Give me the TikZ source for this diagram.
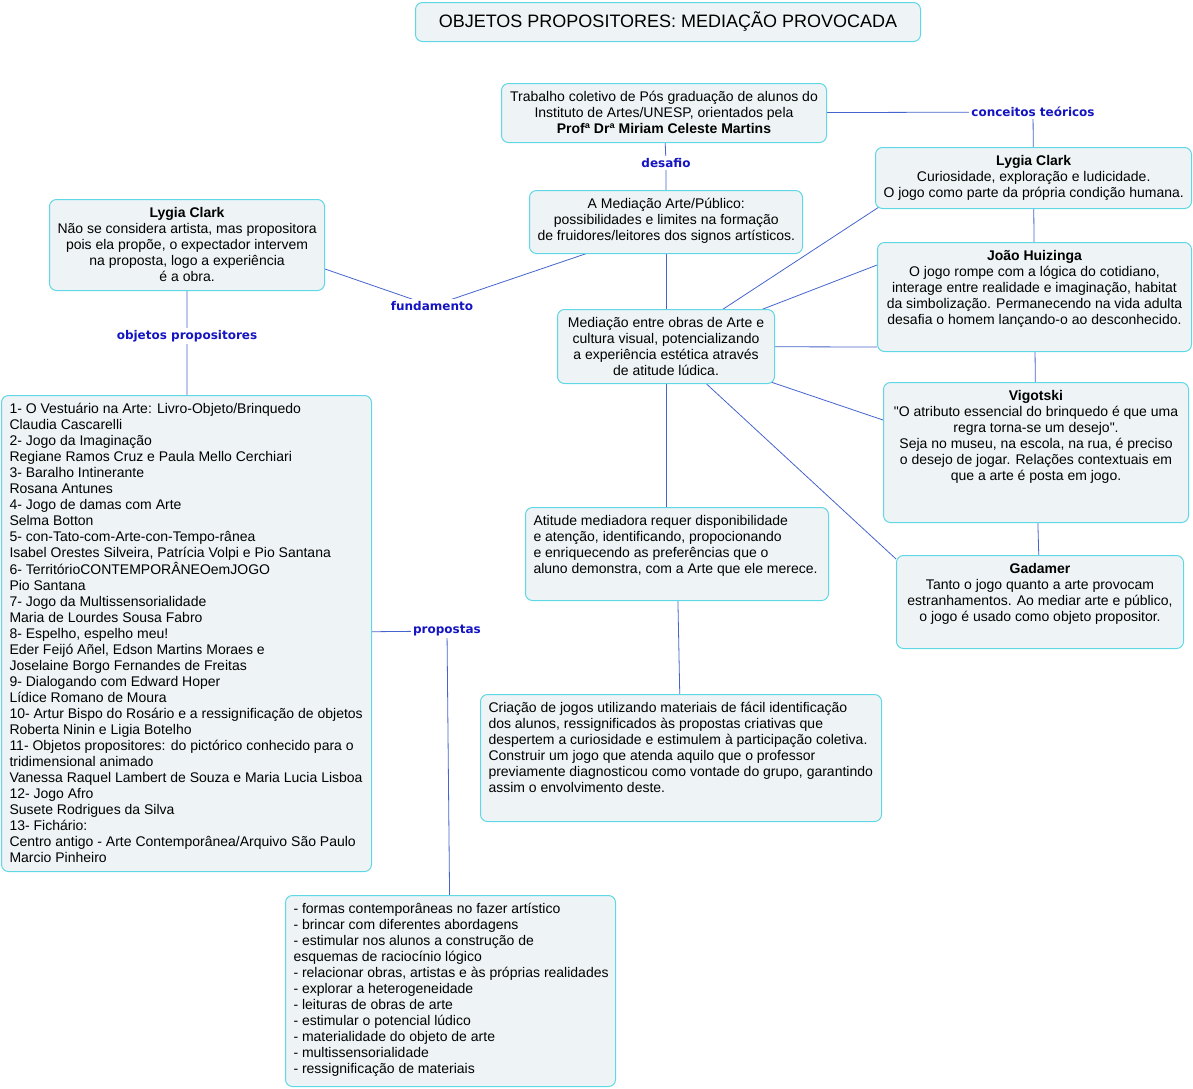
\documentclass[tikz,border=0pt]{standalone}
\usepackage{fontspec}
\setmainfont{Liberation Sans}[Ligatures=TeXOff]
\newfontfamily\labfont{DejaVu Sans}
\usetikzlibrary{backgrounds}
\definecolor{bordc}{RGB}{95,215,228}
\definecolor{fillc}{RGB}{238,244,246}
\definecolor{linec}{RGB}{70,100,205}
\definecolor{labc}{RGB}{20,20,195}
\tikzset{
  mapbox/.style={draw=bordc, fill=fillc, rounded corners=7pt, line width=1pt,
    inner xsep=8pt, inner ysep=6.8pt, anchor=north west,
    font=\fontsize{14}{16}\selectfont},
  lab/.style={font=\labfont\bfseries\fontsize{12}{14}\selectfont, text=labc, fill=white, inner sep=2pt},
  conn/.style={draw=linec, line width=0.8pt}
}
\newcommand\MapC[6]{\node[mapbox,minimum width=#4pt,minimum height=#5pt] (#1) at (#2,#3)
  {\parbox[c][\dimexpr#5pt-13.6pt\relax][t]{\dimexpr#4pt-16pt\relax}{\centering\begin{tabular}[t]{@{}c@{}}#6\end{tabular}\par}};}
\newcommand\MapL[6]{\node[mapbox,minimum width=#4pt,minimum height=#5pt] (#1) at (#2,#3)
  {\parbox[c][\dimexpr#5pt-13.6pt\relax][t]{\dimexpr#4pt-16pt\relax}{\raggedright\begin{tabular}[t]{@{}l@{}}#6\end{tabular}\par}};}
\begin{document}
\begin{tikzpicture}[x=1pt,y=-1pt]
\useasboundingbox (0,0) rectangle (1193,1088);
\node[mapbox, minimum width=505pt, minimum height=39pt, font=\fontsize{18}{20}\selectfont] (title) at (415,2) {OBJETOS PROPOSITORES: MEDIAÇÃO PROVOCADA};

\MapC{trab}{501}{83}{325}{59}{Trabalho coletivo de Pós graduação de alunos do\\ Instituto de Artes/UNESP, orientados pela\\ \textbf{Profª Drª Miriam Celeste Martins}}
\MapC{amed}{529}{190}{273}{63}{A Mediação Arte/Público:\\ possibilidades e limites na formação\\ de fruidores/leitores dos signos artísticos.}
\MapC{lcl}{49}{199}{275}{91}{\textbf{Lygia Clark}\\ Não se considera artista, mas propositora\\ pois ela propõe, o expectador intervem\\ na proposta, logo a experiência\\ é a obra.}
\MapC{lcr}{875}{147}{316}{61}{\textbf{Lygia Clark}\\ Curiosidade, exploração e ludicidade.\\ O jogo como parte da própria condição humana.}
\MapC{joao}{877}{242}{314}{109}{\textbf{João Huizinga}\\ O jogo rompe com a lógica do cotidiano,\\ interage entre realidade e imaginação, habitat\\ da simbolização. Permanecendo na vida adulta\\ desafia o homem lançando-o ao desconhecido.}
\MapC{medent}{557}{309}{217}{74}{Mediação entre obras de Arte e\\ cultura visual, potencializando\\ a experiência estética através\\ de atitude lúdica.}
\MapC{vig}{883}{382}{305}{140}{\textbf{Vigotski}\\ "O atributo essencial do brinquedo é que uma\\ regra torna-se um desejo".\\ Seja no museu, na escola, na rua, é preciso\\ o desejo de jogar. Relações contextuais em\\ que a arte é posta em jogo.}
\MapC{gad}{896}{555}{287}{93}{\textbf{Gadamer}\\ Tanto o jogo quanto a arte provocam\\ estranhamentos. Ao mediar arte e público,\\ o jogo é usado como objeto propositor.}
\MapL{atit}{525}{507}{303}{93}{Atitude mediadora requer disponibilidade\\ e atenção, identificando, propocionando\\ e enriquecendo as preferências que o\\ aluno demonstra, com a Arte que ele merece.}
\MapL{criac}{480}{694}{401}{127}{Criação de jogos utilizando materiais de fácil identificação\\ dos alunos, ressignificados às propostas criativas que\\ despertem a curiosidade e estimulem à participação coletiva.\\ Construir um jogo que atenda aquilo que o professor\\ previamente diagnosticou como vontade do grupo, garantindo\\ assim o envolvimento deste.}
\MapL{list}{1}{395}{370}{476}{1- O Vestuário na Arte: Livro-Objeto/Brinquedo\\ Claudia Cascarelli\\ 2- Jogo da Imaginação\\ Regiane Ramos Cruz e Paula Mello Cerchiari\\ 3- Baralho Intinerante\\ Rosana Antunes\\ 4- Jogo de damas com Arte\\ Selma Botton\\ 5- con-Tato-com-Arte-con-Tempo-rânea\\ Isabel Orestes Silveira, Patrícia Volpi e Pio Santana\\ 6- TerritórioCONTEMPORÂNEOemJOGO\\ Pio Santana\\ 7- Jogo da Multissensorialidade\\ Maria de Lourdes Sousa Fabro\\ 8- Espelho, espelho meu!\\ Eder Feijó Añel, Edson Martins Moraes e\\ Joselaine Borgo Fernandes de Freitas\\ 9- Dialogando com Edward Hoper\\ Lídice Romano de Moura\\ 10- Artur Bispo do Rosário e a ressignificação de objetos\\ Roberta Ninin e Ligia Botelho\\ 11- Objetos propositores: do pictórico conhecido para o\\ tridimensional animado\\ Vanessa Raquel Lambert de Souza e Maria Lucia Lisboa\\ 12- Jogo Afro\\ Susete Rodrigues da Silva\\ 13- Fichário:\\ Centro antigo - Arte Contemporânea/Arquivo São Paulo\\ Marcio Pinheiro}
\MapL{blist}{285}{895}{330}{191}{- formas contemporâneas no fazer artístico\\ - brincar com diferentes abordagens\\ - estimular nos alunos a construção de\\ esquemas de raciocínio lógico\\ - relacionar obras, artistas e às próprias realidades\\ - explorar a heterogeneidade\\ - leituras de obras de arte\\ - estimular o potencial lúdico\\ - materialidade do objeto de arte\\ - multissensorialidade\\ - ressignificação de materiais}

\node[lab] (des) at (666,163) {desafio};
\node[lab] (conc) at (1033,112) {conceitos teóricos};
\node[lab] (fund) at (432,306) {fundamento};
\node[lab] (objp) at (187,336) {objetos propositores};
\node[lab] (prop) at (447,631) {propostas};

\begin{scope}[on background layer]
\draw[conn] (trab.center) -- (des.center) -- (amed.center);
\draw[conn] (trab.center) -- (conc.center) -- (lcr.center);
\draw[conn] (lcr.center) -- (joao.center);
\draw[conn] (joao.center) -- (vig.center);
\draw[conn] (vig.center) -- (gad.center);
\draw[conn] (amed.center) -- (medent.center);
\draw[conn] ([yshift=-4.5pt]amed.center) -- (fund.center) -- ([yshift=-24pt]lcl.east);
\draw[conn] (lcl.center) -- (objp.center) -- (list.center);
\draw[conn] (list.center) -- (prop.center) -- (blist.center);
\draw[conn] (medent.center) -- ([xshift=4pt,yshift=2pt]lcr.south west);
\draw[conn] (medent.center) -- ([yshift=-23pt]joao.north west);
\draw[conn] (medent.center) -- ([yshift=5pt]joao.south west);
\draw[conn] (medent.center) -- ([yshift=-38pt]vig.north west);
\draw[conn] (medent.center) -- ([yshift=-4pt]gad.north west);
\draw[conn] (medent.center) -- (medent.center |- atit.north);
\draw[conn] (atit.center) -- (criac.center);
\end{scope}
\end{tikzpicture}
\end{document}
